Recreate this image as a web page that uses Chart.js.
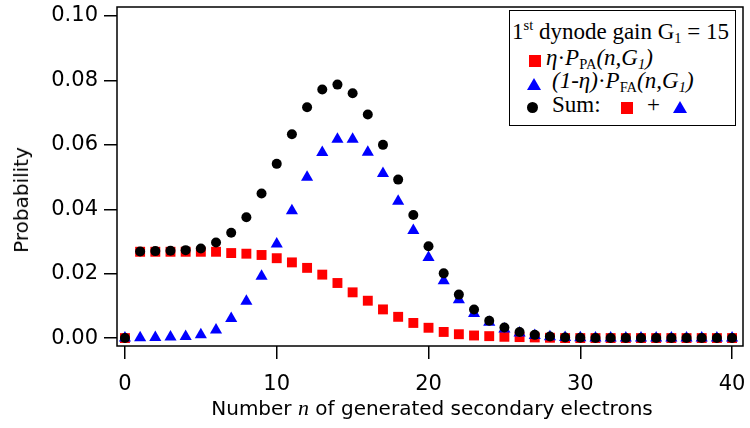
<!DOCTYPE html>
<html>
<head>
<meta charset="utf-8">
<script src="https://cdn.jsdelivr.net/npm/chart.js@4/dist/chart.umd.min.js"></script>
<style>
  body { margin: 0; background: #fff; }
  #wrap { position: relative; width: 750px; height: 428px; overflow: hidden; }
  #chart { position: absolute; left: 0; top: 0; }
  .axtitle { position: absolute; font-family: "DejaVu Sans", sans-serif; font-size: 20px; line-height: 1; color: #000; white-space: nowrap; }
  #xtitle { left: 117px; width: 630px; top: 397px; text-align: center; }
  #xtitle i { font-family: "Liberation Serif", serif; font-size: 22px; }
  #ytitle { left: 21px; top: 200px; transform: translate(-50%, -50%) rotate(-90deg); }
  #legend { position: absolute; left: 509px; top: 10px; width: 227px; height: 116px; box-sizing: border-box; border: 1.5px solid #000; background: #fff; }
  .lg { position: absolute; font-family: "Liberation Serif", serif; font-size: 23px; line-height: 1; white-space: nowrap; color: #000; }
  .sup { font-size: 14.5px; position: relative; top: -9px; }
  .sub { font-size: 14.5px; position: relative; top: 4px; font-style: normal; }
  .isub { font-size: 14.5px; position: relative; top: 4px; }
  .mk { position: absolute; }
  .sq { width: 12px; height: 12px; background: #f00; }
  .tri { width: 0; height: 0; border-left: 7px solid transparent; border-right: 7px solid transparent; border-bottom: 12px solid #00f; }
  .dot { width: 11px; height: 11px; border-radius: 50%; background: #000; }
</style>
</head>
<body>
<div id="wrap">
  <canvas id="chart" width="750" height="428"></canvas>
  <div class="axtitle" id="ytitle">Probability</div>
  <div class="axtitle" id="xtitle">Number <i>n</i> of generated secondary electrons</div>
  <div id="legend">
    <div class="lg" style="left:2px;top:9px">1<span class="sup">st</span> dynode gain G<span class="sub">1</span> = 15</div>
    <span class="mk sq" style="left:19px;top:44px"></span>
    <div class="lg" style="left:36px;top:35px"><i>η</i>·<i>P</i><span class="sub">PA</span><i>(n,G<span class="isub">1</span>)</i></div>
    <span class="mk tri" style="left:17px;top:67px"></span>
    <div class="lg" style="left:42px;top:58px"><i>(1-η)</i>·<i>P</i><span class="sub">FA</span><i>(n,G<span class="isub">1</span>)</i></div>
    <span class="mk dot" style="left:17px;top:91px"></span>
    <div class="lg" style="left:42px;top:82px">Sum:</div>
    <span class="mk sq" style="left:111px;top:91px"></span>
    <div class="lg" style="left:137px;top:82px">+</div>
    <span class="mk tri" style="left:163px;top:90px"></span>
  </div>
</div>
<script>
// number n of secondary electrons (x axis)
const nValues = [0,1,2,3,4,5,6,7,8,9,10,11,12,13,14,15,16,17,18,19,20,
                 21,22,23,24,25,26,27,28,29,30,31,32,33,34,35,36,37,38,39,40];

// eta * P_PA(n,G1)  - red squares
const ppaValues = [0, 0.0268, 0.0268, 0.0268, 0.0268, 0.0268, 0.0268, 0.0264, 0.0262, 0.0258, 0.0248,
                   0.0235, 0.0218, 0.0197, 0.0171, 0.0142, 0.0116, 0.0089, 0.0066, 0.0047, 0.0032,
                   0.0019, 0.0012, 0.0008, 0.0006, 0.0004, 0.0003, 0.0002, 0.0001, 0, 0,
                   0, 0, 0, 0, 0, 0, 0, 0, 0, 0];

// (1-eta) * P_FA(n,G1)  - blue triangles
const pfaValues = [0, 0.0001, 0.0002, 0.0003, 0.0005, 0.0010, 0.0025, 0.0061, 0.0114, 0.0192, 0.0292,
                   0.0395, 0.0499, 0.0576, 0.0617, 0.0617, 0.0577, 0.0511, 0.0425, 0.0334, 0.0250,
                   0.0178, 0.0119, 0.0076, 0.0049, 0.0028, 0.0016, 0.0008, 0.0004, 0.0002, 0.0001,
                   0, 0, 0, 0, 0, 0, 0, 0, 0, 0];

// sum of both  - black dots
const sumValues = [0, 0.0269, 0.0270, 0.0271, 0.0273, 0.0278, 0.0297, 0.0327, 0.0375, 0.0449, 0.0541,
                   0.0633, 0.0717, 0.0772, 0.0787, 0.0760, 0.0694, 0.0600, 0.0492, 0.0382, 0.0285,
                   0.0201, 0.0135, 0.0089, 0.0054, 0.0033, 0.0019, 0.0010, 0.0005, 0.0002, 0.0001,
                   0, 0, 0, 0, 0, 0, 0, 0, 0, 0];

// tick values and their labels
const xTickValues = [0, 10, 20, 30, 40];
const xTickLabels = ['0', '10', '20', '30', '40'];
const yTickValues = [0, 0.02, 0.04, 0.06, 0.08, 0.10];
const yTickLabels = ['0.00', '0.02', '0.04', '0.06', '0.08', '0.10'];

// turns a y array into points for the scatter chart
function toPoints(values) {
  return nValues.map((n, i) => ({ x: n, y: values[i] }));
}

// box round the plot area (the Igor style frame)
const framePlugin = {
  id: 'frame',
  afterDatasetsDraw(chart) {
    const ctx = chart.ctx;
    const a = chart.chartArea;
    ctx.save();
    ctx.strokeStyle = '#000';
    ctx.lineWidth = 1.5;
    ctx.strokeRect(a.left, a.top, a.right - a.left, a.bottom - a.top);
    ctx.restore();
  }
};

const tickFont = { family: 'DejaVu Sans', size: 21 };

new Chart(document.getElementById('chart'), {
  type: 'scatter',
  data: {
    datasets: [
      // first dataset is drawn on top
      { label: 'Sum', data: toPoints(sumValues), order: 0,
        pointStyle: 'circle', pointRadius: 5, backgroundColor: '#000', borderWidth: 0 },
      { label: '(1-η)·P_FA(n,G1)', data: toPoints(pfaValues), order: 1,
        pointStyle: 'triangle', pointRadius: 7, backgroundColor: '#0000ff', borderWidth: 0 },
      { label: 'η·P_PA(n,G1)', data: toPoints(ppaValues), order: 2,
        pointStyle: 'rect', pointRadius: 7, backgroundColor: '#ff0000', borderWidth: 0 }
    ]
  },
  options: {
    responsive: false,
    animation: false,
    layout: { padding: { top: 4, right: 3, left: 0, bottom: 0 } },
    plugins: { legend: { display: false }, tooltip: { enabled: false } },
    elements: { point: { hoverRadius: 5 } },
    scales: {
      x: {
        type: 'linear',
        min: -0.524,
        max: 40.72,
        afterBuildTicks: (scale) => { scale.ticks = xTickValues.map(v => ({ value: v })); },
        // fixed height, and no extra room for the end labels
        afterFit: (scale) => { scale.height = 82; scale.paddingLeft = 0; scale.paddingRight = 0; },
        ticks: { font: tickFont, color: '#000', padding: 13, maxRotation: 0,
                 callback: (v, i) => xTickLabels[i] },
        grid: { drawOnChartArea: false, tickLength: 13, color: '#000', lineWidth: 1.5 },
        border: { display: false }
      },
      y: {
        type: 'linear',
        min: -0.00246,
        max: 0.1028,
        afterBuildTicks: (scale) => { scale.ticks = yTickValues.map(v => ({ value: v })); },
        afterFit: (scale) => { scale.width = 117; scale.paddingTop = 0; scale.paddingBottom = 0; },
        ticks: { font: tickFont, color: '#000', padding: 6,
                 callback: (v, i) => yTickLabels[i] },
        grid: { drawOnChartArea: false, tickLength: 13, color: '#000', lineWidth: 1.5 },
        border: { display: false }
      }
    }
  },
  plugins: [framePlugin]
});
</script>
</body>
</html>
